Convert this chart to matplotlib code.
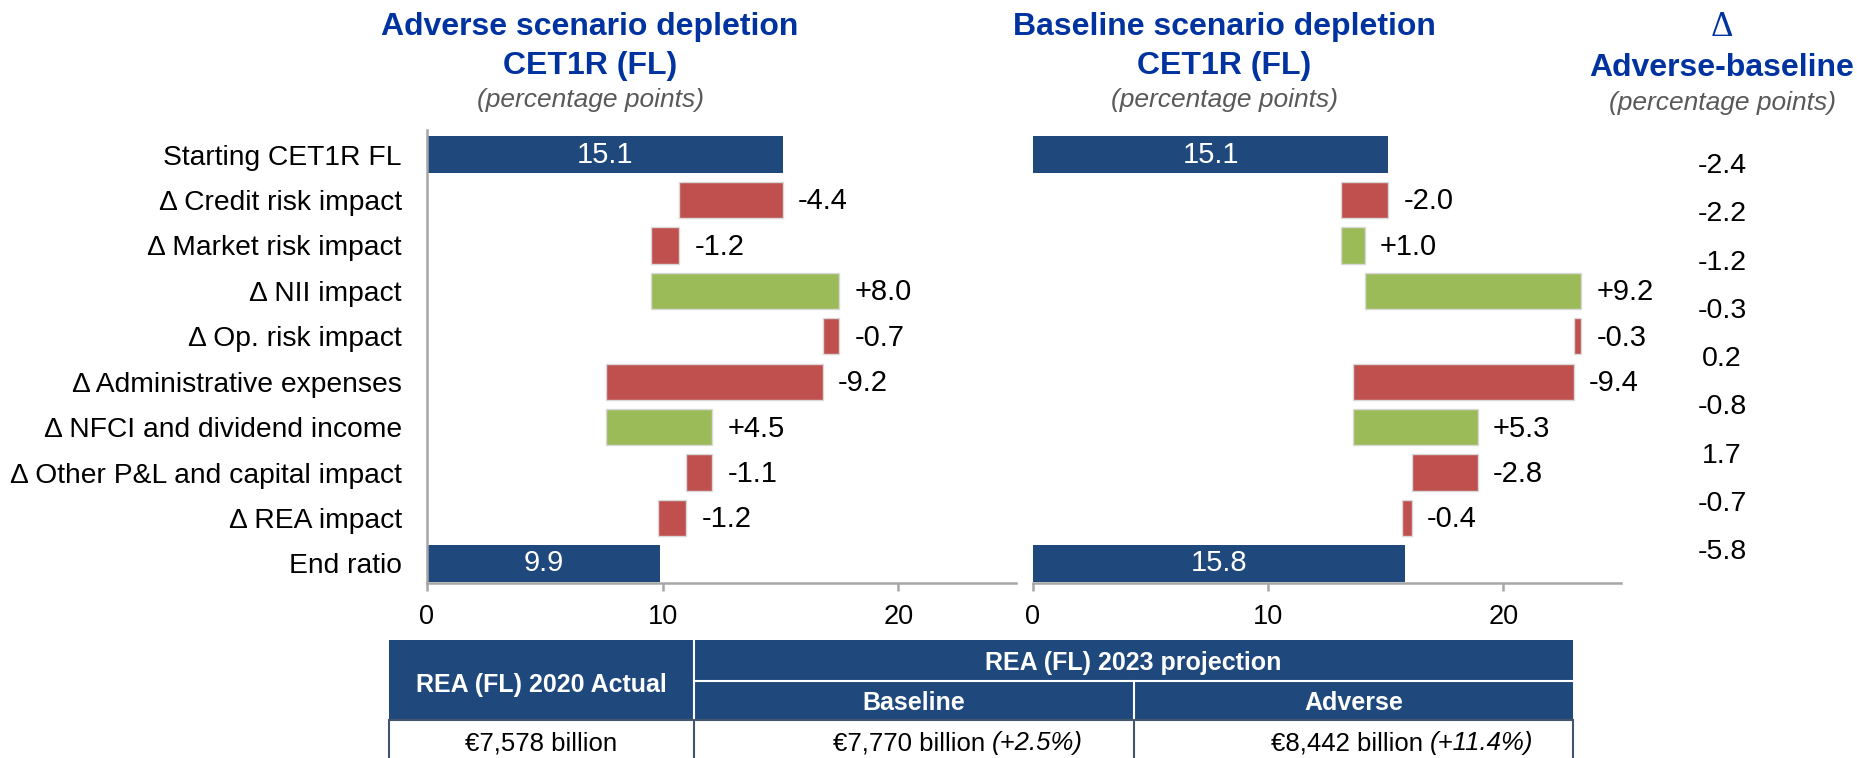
import numpy as np
import matplotlib
matplotlib.use("Agg")
import matplotlib.pyplot as plt
from matplotlib.patches import Rectangle

plt.rcParams['font.family'] = ['Liberation Sans', 'DejaVu Sans']

# ---- data ----
categories = ['Starting CET1R FL', 'Δ Credit risk impact', 'Δ Market risk impact',
              'Δ NII impact', 'Δ Op. risk impact', 'Δ Administrative expenses',
              'Δ NFCI and dividend income', 'Δ Other P&L and capital impact',
              'Δ REA impact', 'End ratio']

adverse_start = 15.1
adverse_steps = [-4.4, -1.2, 8.0, -0.7, -9.2, 4.5, -1.1, -1.2]
adverse_end = 9.9

baseline_start = 15.1
baseline_steps = [-2.0, 1.0, 9.2, -0.3, -9.4, 5.3, -2.8, -0.4]
baseline_end = 15.8

delta_values = ['-2.4', '-2.2', '-1.2', '-0.3', '0.2', '-0.8', '1.7', '-0.7', '-5.8']

xticks = [0, 10, 20]

rea_actual = '€7,578 billion'
rea_baseline = '€7,770 billion'
rea_baseline_chg = '(+2.5%)'
rea_adverse = '€8,442 billion'
rea_adverse_chg = '(+11.4%)'

BLUE = '#1f497d'
RED = '#c0504d'
GREEN = '#9bbb59'
TITLE = '#0033a0'
GREY = '#a6a6a6'

W, H = 1858, 758
fig = plt.figure(figsize=(W / 100, H / 100), dpi=100)


def waterfall(ax, start, steps, end):
    n = len(steps) + 2
    ax.barh(0, start, height=0.8, color=BLUE)
    ax.text(start / 2, 0, '%.1f' % start, color='white', ha='center', va='center', fontsize=21)
    level = start
    for i, s in enumerate(steps, 1):
        left = level if s > 0 else level + s
        ax.barh(i, abs(s), left=left, height=0.8, color=GREEN if s > 0 else RED,
                edgecolor='#d9d9d9', linewidth=1)
        ax.annotate('%+.1f' % s, (max(level, level + s), i), xytext=(11, -1),
                    textcoords='offset points', va='center', fontsize=21)
        level += s
    ax.barh(n - 1, end, height=0.8, color=BLUE)
    ax.text(end / 2, n - 1, '%.1f' % end, color='white', ha='center', va='center', fontsize=21)
    ax.set_xlim(0, 25)
    ax.set_ylim(9.43, -0.54)
    ax.set_xticks(xticks)
    ax.tick_params(axis='x', length=6, width=1.8, color=GREY, labelsize=19.5, pad=9)
    for sp in ['top', 'right']:
        ax.spines[sp].set_visible(False)
    for sp in ['left', 'bottom']:
        ax.spines[sp].set_color(GREY)
        ax.spines[sp].set_linewidth(1.8)


bottom = 1 - 583 / H
height = 453 / H
ax1 = fig.add_axes([427 / W, bottom, 589 / W, height])
waterfall(ax1, adverse_start, adverse_steps, adverse_end)
ax1.set_yticks(range(len(categories)))
ax1.set_yticklabels(categories, fontsize=20.3)
ax1.tick_params(axis='y', length=0, pad=18)

ax2 = fig.add_axes([1033 / W, bottom, 588 / W, height])
waterfall(ax2, baseline_start, baseline_steps, baseline_end)
ax2.spines['left'].set_visible(False)
ax2.set_yticks([])

# delta column
ax3 = fig.add_axes([1660 / W, bottom, 124 / W, height])
ax3.set_xlim(0, 1)
ax3.set_ylim(8.642, -0.746)
ax3.axis('off')
for i, v in enumerate(delta_values):
    ax3.text(0.5, i, v, ha='center', va='center', fontsize=20.5)

# overlay in pixel coords for titles and table
ov = fig.add_axes([0, 0, 1, 1], zorder=-1)
ov.set_xlim(0, W)
ov.set_ylim(H, 0)
ov.axis('off')

for cx, t in [(590, 'Adverse scenario depletion'), (1224, 'Baseline scenario depletion')]:
    ov.text(cx, 35, t, ha='center', va='baseline', fontsize=23, fontweight='bold', color=TITLE)
    ov.text(cx, 74, 'CET1R (FL)', ha='center', va='baseline', fontsize=23, fontweight='bold', color=TITLE)
    ov.text(cx + 1, 107, '(percentage points)', ha='center', va='baseline', fontsize=19,
            style='italic', color='#595959')
ov.text(1722, 36, 'Δ', ha='center', va='baseline', fontsize=25, color=TITLE,
        family=['Liberation Serif', 'DejaVu Serif'])
ov.text(1722, 76, 'Adverse-baseline', ha='center', va='baseline', fontsize=23,
        fontweight='bold', color=TITLE)
ov.text(1723, 110, '(percentage points)', ha='center', va='baseline', fontsize=19,
        style='italic', color='#595959')

# table
tl, tr, c1, c2 = 389, 1573, 694, 1134
ov.add_patch(Rectangle((tl, 640), tr - tl, 80, facecolor=BLUE, edgecolor='none'))
ov.add_patch(Rectangle((tl, 720), tr - tl, 40, facecolor='white', edgecolor='#44546a', linewidth=1.5))
ov.plot([c1, c1], [640, 720], color='white', lw=1.5)
ov.plot([c1, tr], [681, 681], color='white', lw=1.5)
ov.plot([c2, c2], [681, 720], color='white', lw=1.5)
ov.plot([c1, c1], [720, 760], color='#44546a', lw=1.5)
ov.plot([c2, c2], [720, 760], color='#44546a', lw=1.5)

ov.text((tl + c1) / 2, 685, 'REA (FL) 2020 Actual', ha='center', va='center', fontsize=18,
        fontweight='bold', color='white')
ov.text((c1 + tr) / 2, 663, 'REA (FL) 2023 projection', ha='center', va='center', fontsize=18,
        fontweight='bold', color='white')
ov.text((c1 + c2) / 2, 703, 'Baseline', ha='center', va='center', fontsize=18,
        fontweight='bold', color='white')
ov.text((c2 + tr) / 2, 703, 'Adverse', ha='center', va='center', fontsize=18,
        fontweight='bold', color='white')

ov.text((tl + c1) / 2, 750, rea_actual, ha='center', va='baseline', fontsize=18.5)
ov.text(985, 750, rea_baseline, ha='right', va='baseline', fontsize=18.5)
ov.text(992, 750, rea_baseline_chg, ha='left', va='baseline', fontsize=18.5, style='italic')
ov.text(1423, 750, rea_adverse, ha='right', va='baseline', fontsize=18.5)
ov.text(1430, 750, rea_adverse_chg, ha='left', va='baseline', fontsize=18.5, style='italic')

fig.savefig('out.png', dpi=100, facecolor='white')
